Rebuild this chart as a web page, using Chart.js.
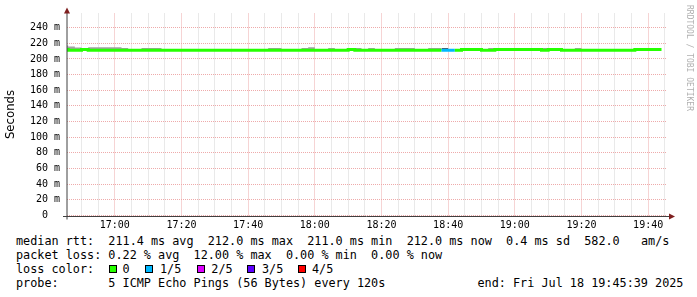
<!DOCTYPE html>
<html>
<head>
<meta charset="utf-8">
<script src="https://cdn.jsdelivr.net/npm/chart.js@4/dist/chart.umd.min.js"></script>
<style>
  body { margin: 0; background: #fff; width: 697px; height: 297px; overflow: hidden; position: relative; }
  #wrap { position: absolute; left: 0; top: 0; width: 697px; height: 232px; }
  .txt { position: absolute; font-family: 'DejaVu Sans Mono', monospace; font-size: 11.8px; line-height: 14px; white-space: pre; color: #000; }
  .box { position: absolute; width: 6px; height: 6px; border: 1px solid #000; }
</style>
</head>
<body>
<div id="wrap"><canvas id="smokeChart"></canvas></div>
<div id="legend"></div>
<script>
// one step every 2 minutes, first step ends 16:46, graph window 16:45:39 - 19:45:39
const firstStep = '16:44';
const stepMinutes = 2;
const windowStart = '16:45:39';
const windowEnd = '19:45:39';

// median rtt per step (ms)
const median = [
  212, 212, 211, 211, 212, 211, 211, 211, 211, 211,
  211, 211, 211, 211, 211, 211, 211, 211, 211, 211,
  211, 211, 211, 211, 211, 211, 211, 211, 211, 211,
  211, 211, 211, 211, 211, 211, 211, 211, 211, 211,
  211, 211, 211, 211, 212, 211, 211, 211, 211, 211,
  211, 211, 211, 211, 211, 211, 211, 211, 211, 211,
  211, 212, 212, 212, 211, 211, 212, 212, 212, 212,
  212, 212, 212, 211, 212, 212, 211, 211, 211, 211,
  211, 211, 211, 211, 211, 211, 211, 212, 212, 212
];

// highest ping per step (top of the smoke, ms)
const pingMax = [
  217, 217, 216, 214.5, 212, 215, 215, 215, 215, 215,
  214, 211, 211, 214, 214, 214, 211, 211, 211, 211,
  211, 211, 211, 211, 211, 211, 211, 211, 211, 211,
  211, 211, 214, 214, 211, 211, 211, 214, 215, 211,
  211, 214, 211, 211, 212, 214, 211, 214, 211, 211,
  211, 214, 214, 214, 211, 211, 214, 214, 214, 211,
  211, 212, 212, 212, 211, 214, 212, 212, 212, 212,
  212, 212, 212, 214, 212, 212, 211, 211, 214, 211,
  211, 211, 211, 211, 211, 211, 211, 212, 212, 212
];

// lost pings out of 5 per step
const lossCount = [
  0, 0, 0, 0, 0, 0, 0, 0, 0, 0,
  0, 0, 0, 0, 0, 0, 0, 0, 0, 0,
  0, 0, 0, 0, 0, 0, 0, 0, 0, 0,
  0, 0, 0, 0, 0, 0, 0, 0, 0, 0,
  0, 0, 0, 0, 0, 0, 0, 0, 0, 0,
  0, 0, 0, 0, 0, 0, 0, 1, 1, 0,
  0, 0, 0, 0, 0, 0, 0, 0, 0, 0,
  0, 0, 0, 0, 0, 0, 0, 0, 0, 0,
  0, 0, 0, 0, 0, 0, 0, 0, 0, 0
];

const lossLabels = ['0', '1/5', '2/5', '3/5', '4/5'];
const lossColors = ['#26ff00', '#00b8ff', '#dd00ff', '#5e00ff', '#ff0000'];

const timeLabels = ['17:00', '17:20', '17:40', '18:00', '18:20', '18:40', '19:00', '19:20', '19:40'];

const legendLines = [
  'median rtt:  211.4 ms avg  212.0 ms max  211.0 ms min  212.0 ms now  0.4 ms sd  582.0   am/s',
  'packet loss: 0.22 % avg  12.00 % max  0.00 % min  0.00 % now',
  'loss color:',
  'probe:       5 ICMP Echo Pings (56 Bytes) every 120s'
];
const endText = 'end: Fri Jul 18 19:45:39 2025';

function toMin(s) {
  const p = s.split(':').map(Number);
  return p[0] * 60 + p[1] + (p[2] || 0) / 60;
}
function fmtMin(v) {
  const h = Math.floor(v / 60), m = Math.round(v % 60);
  return h + ':' + String(m).padStart(2, '0');
}

const t0 = toMin(firstStep);
function stepPoints(vals) {
  const pts = vals.map((v, i) => ({ x: t0 + i * stepMinutes, y: v }));
  pts.push({ x: t0 + vals.length * stepMinutes, y: vals[vals.length - 1] });
  return pts;
}

const mono = 'DejaVu Sans Mono';
const minorGrid = '#d4d4d4';
const majorGrid = '#eeaaaa';

const decor = {
  id: 'decor',
  afterDraw(chart) {
    const { ctx, chartArea: a } = chart;
    const y0 = Math.round(a.bottom) + 0.5;
    const x0 = Math.round(a.left);
    ctx.save();
    ctx.strokeStyle = '#404040';
    ctx.lineWidth = 1;
    ctx.beginPath();
    ctx.moveTo(a.left - 4, y0);
    ctx.lineTo(a.right + 3, y0);
    ctx.moveTo(x0, a.bottom + 4);
    ctx.lineTo(x0, a.top - 1);
    ctx.stroke();
    ctx.fillStyle = '#7f1f1f';
    ctx.beginPath();
    ctx.moveTo(a.right + 2, y0 - 3);
    ctx.lineTo(a.right + 8, y0);
    ctx.lineTo(a.right + 2, y0 + 3);
    ctx.closePath();
    ctx.fill();
    ctx.beginPath();
    ctx.moveTo(x0 - 3, a.top);
    ctx.lineTo(x0, a.top - 6);
    ctx.lineTo(x0 + 3, a.top);
    ctx.closePath();
    ctx.fill();
    // watermark
    ctx.fillStyle = '#b0b0b0';
    ctx.font = '8px "' + mono + '"';
    ctx.textBaseline = 'middle';
    ctx.translate(689, 5);
    ctx.rotate(Math.PI / 2);
    ctx.fillText('RRDTOOL / TOBI OETIKER', 0, 0);
    ctx.restore();
  }
};

const xMin = toMin(windowStart), xMax = toMin(windowEnd);
const xGrid = [];
for (let v = Math.ceil(xMin / 5) * 5; v <= xMax; v += 5) xGrid.push(v);
const yGrid = [];
for (let v = 0; v <= 250; v += 10) yGrid.push(v);

new Chart(document.getElementById('smokeChart').getContext('2d'), {
  type: 'line',
  data: {
    datasets: [{
      label: 'median rtt',
      data: stepPoints(median),
      stepped: 'after',
      borderWidth: 3,
      borderColor: lossColors[0],
      pointRadius: 0,
      fill: false,
      order: 0,
      segment: {
        borderColor: ctx => lossColors[lossCount[ctx.p0DataIndex]] || lossColors[0]
      }
    }, {
      label: 'smoke',
      data: stepPoints(pingMax),
      stepped: 'after',
      borderWidth: 0,
      borderColor: 'rgba(0,0,0,0)',
      backgroundColor: '#a2a2a2',
      pointRadius: 0,
      fill: '-1',
      order: 1,
      segment: {
        backgroundColor: ctx => lossCount[ctx.p0DataIndex] > 0 ? '#505050' : '#a2a2a2'
      }
    }]
  },
  options: {
    responsive: true,
    maintainAspectRatio: false,
    animation: false,
    layout: { padding: { top: 13.5, right: 30, left: 0, bottom: 0 } },
    plugins: { legend: { display: false }, tooltip: { enabled: false } },
    scales: {
      x: {
        type: 'linear',
        min: xMin,
        max: xMax,
        afterBuildTicks: axis => { axis.ticks = xGrid.map(v => ({ value: v })); },
        afterFit: scale => { scale.height = 16.5; },
        ticks: {
          autoSkip: false,
          maxRotation: 0,
          padding: 4,
          color: '#000',
          font: { family: mono, size: 10 },
          callback: v => timeLabels.includes(fmtMin(v)) && v % 20 === 0 ? fmtMin(v) : ''
        },
        grid: {
          drawTicks: false,
          color: ctx => ctx.tick && ctx.tick.value % 20 === 0 ? majorGrid : minorGrid
        },
        border: { display: false, dash: [1, 1] }
      },
      y: {
        min: 0,
        max: 258,
        afterBuildTicks: axis => { axis.ticks = yGrid.map(v => ({ value: v })); },
        afterFit: scale => { scale.width = 67; },
        ticks: {
          padding: 7,
          color: '#000',
          font: { family: mono, size: 10 },
          callback: v => v % 20 !== 0 ? '' : (v === 0 ? '0  ' : v + ' m')
        },
        grid: {
          drawTicks: false,
          color: ctx => ctx.tick && ctx.tick.value % 20 === 0 ? majorGrid : minorGrid
        },
        border: { display: false, dash: [1, 1] },
        title: {
          display: true,
          text: 'Seconds',
          color: '#000',
          font: { family: 'DejaVu Sans', size: 11.7 },
          padding: { top: 4, bottom: 0 }
        }
      }
    }
  },
  plugins: [decor]
});

// legend text below the graph
const legend = document.getElementById('legend');
const lineTops = [234.4, 248.3, 262.2, 276.1];
function addText(text, left, top) {
  const d = document.createElement('div');
  d.className = 'txt';
  d.style.left = left + 'px';
  d.style.top = top + 'px';
  d.textContent = text;
  legend.appendChild(d);
}
legendLines.forEach((l, i) => addText(l, 16, lineTops[i]));
addText(endText, 477.5, lineTops[3]);
const boxLeft = [108.5, 145, 196.5, 247, 297.5];
const labelLeft = [122.5, 160, 211.3, 262, 312];
lossLabels.forEach((lab, i) => {
  const b = document.createElement('div');
  b.className = 'box';
  b.style.left = boxLeft[i] + 'px';
  b.style.top = '264.5px';
  b.style.background = lossColors[i];
  legend.appendChild(b);
  addText(lab, labelLeft[i], lineTops[2]);
});
</script>
</body>
</html>
